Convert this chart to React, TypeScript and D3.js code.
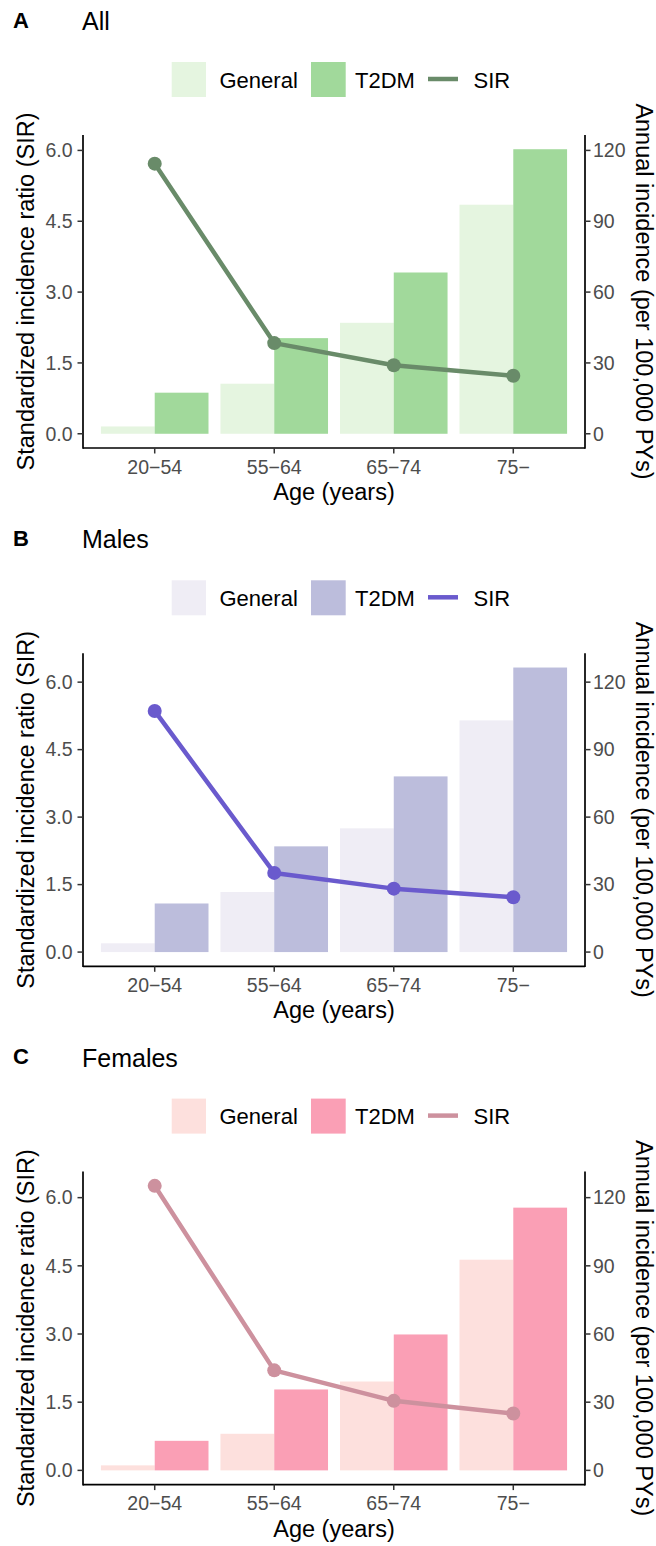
import React from 'react'
import * as d3 from 'd3'

const ages = ['20−54', '55−64', '65−74', '75−']

const allGeneral = [3.1, 21.2, 47.0, 97.0]
const allT2dm = [17.4, 40.5, 68.3, 120.5]
const allSir = [5.72, 1.92, 1.45, 1.23]

const maleGeneral = [3.9, 26.7, 55.0, 103.0]
const maleT2dm = [21.6, 47.0, 78.1, 126.5]
const maleSir = [5.36, 1.76, 1.41, 1.22]

const femaleGeneral = [2.2, 16.1, 39.1, 92.7]
const femaleT2dm = [13.0, 35.6, 59.8, 115.6]
const femaleSir = [6.26, 2.2, 1.53, 1.25]

const sirTicks = [0, 1.5, 3, 4.5, 6]
const incTicks = [0, 30, 60, 90, 120]
const legendLabels = ['General', 'T2DM', 'SIR']

const panels = [
    { letter: 'A', title: 'All', general: allGeneral, t2dm: allT2dm, sir: allSir, colors: ['#E5F5E0', '#A1D99B', '#698B69'] },
    { letter: 'B', title: 'Males', general: maleGeneral, t2dm: maleT2dm, sir: maleSir, colors: ['#EFEDF5', '#BCBDDC', '#6A5ACD'] },
    { letter: 'C', title: 'Females', general: femaleGeneral, t2dm: femaleT2dm, sir: femaleSir, colors: ['#FDE0DD', '#FA9FB5', '#CD919E'] },
]

const W = 656
const H = 1546
const font = "'Liberation Sans', Arial, sans-serif"
const left = 83
const right = 585
const panelGap = 518.3
const firstTop = 135
const plotH = 313
const ratio = 20 // incidence per SIR unit on the secondary axis

function Panel({ p, i }) {
    const top = firstTop + i * panelGap
    const bottom = top + plotH

    const x = d3.scalePoint().domain(ages).range([left, right]).padding(0.6)
    const barW = x.step() * 0.45

    const maxV = Math.max(d3.max(p.sir), d3.max(p.t2dm) / ratio, d3.max(p.general) / ratio)
    const y = d3.scaleLinear().domain([-0.05 * maxV, maxV * 1.05]).range([bottom, top])
    const yInc = d3.scaleLinear().domain([-0.05 * maxV * ratio, maxV * 1.05 * ratio]).range([bottom, top])

    const line = d3.line().x((d, k) => x(ages[k])).y(d => y(d))
    const fmt = d3.format('.1f')

    const [cGen, cT2, cSir] = p.colors
    const legY = top - 73

    return (
        <g>
            <text x={13} y={top - 107.5} fontSize={22} fontWeight="bold" fontFamily={font}>{p.letter}</text>
            <text x={82} y={top - 105} fontSize={25} fontFamily={font}>{p.title}</text>

            {/* legend */}
            <rect x={171.7} y={legY} width={34.3} height={35} fill={cGen} />
            <text x={219.5} y={legY + 25.5} fontSize={22} fontFamily={font}>{legendLabels[0]}</text>
            <rect x={311} y={legY} width={34.7} height={35} fill={cT2} />
            <text x={355} y={legY + 25.5} fontSize={22} fontFamily={font}>{legendLabels[1]}</text>
            <line x1={428} x2={458} y1={legY + 17} y2={legY + 17} stroke={cSir} strokeWidth={4.5} />
            <text x={473.5} y={legY + 25.5} fontSize={22} fontFamily={font}>{legendLabels[2]}</text>

            {/* bars */}
            {ages.map((a, k) => (
                <rect key={'g' + k} x={x(a) - barW} y={yInc(p.general[k])} width={barW}
                    height={yInc(0) - yInc(p.general[k])} fill={cGen} />
            ))}
            {ages.map((a, k) => (
                <rect key={'t' + k} x={x(a)} y={yInc(p.t2dm[k])} width={barW}
                    height={yInc(0) - yInc(p.t2dm[k])} fill={cT2} />
            ))}

            {/* SIR line */}
            <path d={line(p.sir)} fill="none" stroke={cSir} strokeWidth={4.5} strokeLinejoin="round" />
            {p.sir.map((v, k) => (
                <circle key={'c' + k} cx={x(ages[k])} cy={y(v)} r={7} fill={cSir} />
            ))}

            {/* axes */}
            <line x1={left} x2={left} y1={top} y2={bottom + 0.8} stroke="#000" strokeWidth={1.7} />
            <line x1={right} x2={right} y1={top} y2={bottom + 0.8} stroke="#000" strokeWidth={1.7} />
            <line x1={left} x2={right} y1={bottom} y2={bottom} stroke="#000" strokeWidth={1.7} />

            {sirTicks.map(t => (
                <g key={'l' + t}>
                    <line x1={left - 5.5} x2={left} y1={y(t)} y2={y(t)} stroke="#333" strokeWidth={1.5} />
                    <text x={left - 10.5} y={y(t)} dy="0.35em" textAnchor="end" fontSize={19.5}
                        fill="#4D4D4D" fontFamily={font}>{fmt(t)}</text>
                </g>
            ))}
            {incTicks.map(t => (
                <g key={'r' + t}>
                    <line x1={right} x2={right + 5.5} y1={yInc(t)} y2={yInc(t)} stroke="#333" strokeWidth={1.5} />
                    <text x={right + 8} y={yInc(t)} dy="0.35em" fontSize={19.5}
                        fill="#4D4D4D" fontFamily={font}>{t}</text>
                </g>
            ))}
            {ages.map(a => (
                <g key={'x' + a}>
                    <line x1={x(a)} x2={x(a)} y1={bottom} y2={bottom + 5.5} stroke="#333" strokeWidth={1.5} />
                    <text x={x(a)} y={bottom + 25.5} textAnchor="middle" fontSize={19.5}
                        fill="#4D4D4D" fontFamily={font}>{a}</text>
                </g>
            ))}

            <text x={(left + right) / 2} y={bottom + 52} textAnchor="middle" fontSize={23.5} fontFamily={font}>Age (years)</text>
            <text transform={`translate(34,${(top + bottom) / 2}) rotate(-90)`} textAnchor="middle"
                fontSize={23.5} fontFamily={font}>Standardized incidence ratio (SIR)</text>
            <text transform={`translate(636,${(top + bottom) / 2}) rotate(90)`} textAnchor="middle"
                fontSize={23.5} fontFamily={font}>Annual incidence (per 100,000 PYs)</text>
        </g>
    )
}

export default function App() {
    return (
        <svg width={W} height={H} style={{ position: 'absolute', left: 0, top: 0, background: '#fff' }}>
            <rect width={W} height={H} fill="#fff" />
            {panels.map((p, i) => <Panel key={p.letter} p={p} i={i} />)}
        </svg>
    )
}
